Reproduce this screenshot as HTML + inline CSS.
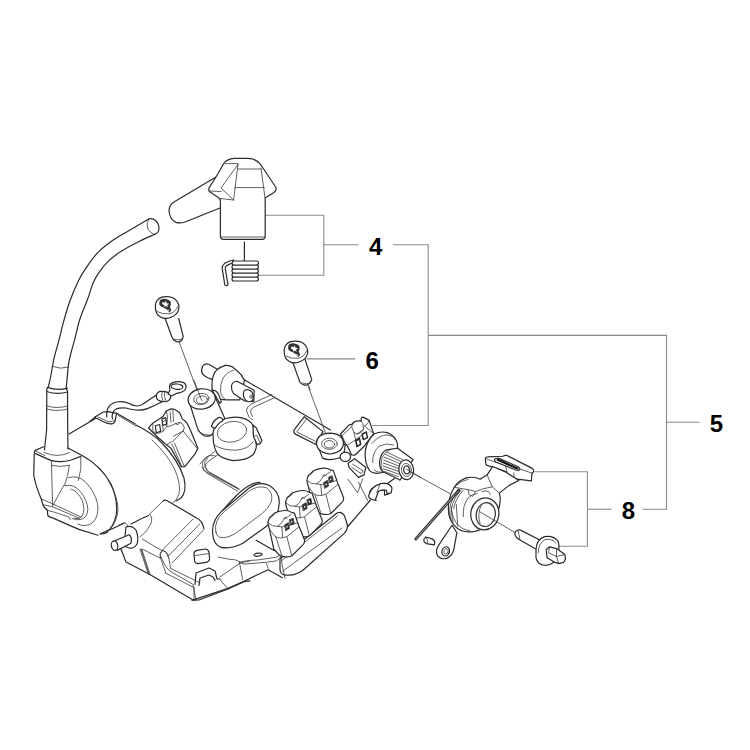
<!DOCTYPE html>
<html><head><meta charset="utf-8"><style>
html,body{margin:0;padding:0;background:#fff;width:750px;height:750px;overflow:hidden}
svg{display:block}
svg *{vector-effect:non-scaling-stroke}
.t{font-family:"Liberation Sans",sans-serif;font-weight:bold;font-size:24px;fill:#000}
.c{stroke:#8a8a8a;stroke-width:1.1;fill:none}
.o{stroke:#2a2a2a;stroke-width:1.2;vector-effect:non-scaling-stroke;fill:none;stroke-linejoin:round;stroke-linecap:round}
.i{stroke:#383838;stroke-width:0.8;vector-effect:non-scaling-stroke;fill:none;stroke-linejoin:round;stroke-linecap:round}
.f{fill:#fff}
</style></head><body>
<svg width="750" height="750" viewBox="0 0 750 750">
<!-- callouts -->
<g class="c">
<path d="M264.5 215.2H323.8V275.3H258"/>
<path d="M323.8 244.8H358.5"/>
<path d="M393 244.8H428.2V425.5H372"/>
<path d="M428.2 335.4H666.5V509.2H642.5"/>
<path d="M666.5 422.2H699.5"/>
<path d="M611.5 509.2H587.4"/>
<path d="M534.5 471.7H587.4V546.3H559"/>
<path d="M306.5 358.9H355.1"/>
</g>
<text class="t" x="369" y="254.6">4</text>
<text class="t" x="365.6" y="368.6">6</text>
<text class="t" x="709.8" y="432">5</text>
<text class="t" x="621.8" y="518.8">8</text>
<!-- PARTS -->
<g id="cap" transform="translate(150 140) scale(0.2)">
<path class="o f" d="M330 185L120 310Q95 325 95 355Q100 400 130 412Q150 418 175 410L350 340"/>
<path class="o f" d="M352 305L352 480Q352 497 368 497L560 497Q576 497 576 480L576 290L620 262Q636 250 628 235L555 125Q532 93 490 92L420 92Q386 95 370 115L330 185L296 238Q288 255 305 263L338 285Q352 293 352 305Z"/>
<path class="i" d="M375 118L440 118M440 120L418 300M440 122L355 240L418 300M298 255L355 258M345 292L418 300M440 145L555 145M425 238L572 238M555 140L575 290M355 485L572 485"/>
<path class="o" d="M472 510L472 605"/>
<g class="o f">
<rect x="410" y="685" width="132" height="20" rx="10"/>
<rect x="410" y="665" width="132" height="20" rx="10"/>
<rect x="410" y="645" width="132" height="20" rx="10"/>
<rect x="410" y="625" width="132" height="20" rx="10"/>
<rect x="410" y="605" width="132" height="20" rx="10"/>
</g>
<path class="o f" d="M418 600Q395 604 372 618Q360 628 361 642L374 724Q378 732 385 728L390 724L376 642Q375 634 384 628L412 614Z"/>
</g>
<g id="hose">
<path class="o" d="M148.8 219.0C145.7 220.8 135.8 226.6 130.0 230.0C124.2 233.4 119.3 235.9 114.0 239.6C108.7 243.3 102.5 247.9 98.0 252.4C93.5 256.9 90.0 262.2 86.8 266.8C83.6 271.4 81.6 274.3 78.8 280.0C76.0 285.7 72.5 293.9 70.0 300.8C67.5 307.7 65.5 314.9 63.6 321.6C61.7 328.3 60.3 335.2 58.8 340.8C57.3 346.4 55.7 351.6 54.8 355.2C53.9 358.8 53.9 358.9 53.2 362.4C52.5 365.9 51.6 372.0 50.8 376.0C50.0 380.0 48.8 384.7 48.4 386.4L46.8 389L46.6 430L44.5 450"/>
<path class="o" d="M155.0 234.3C152.4 235.5 145.1 238.4 139.6 241.2C134.1 243.9 127.1 247.6 122.0 250.8C116.9 254.0 112.9 256.9 109.2 260.4C105.5 263.9 102.3 267.9 99.6 271.6C96.9 275.3 95.2 278.2 93.2 282.8C91.2 287.4 89.9 293.0 87.6 299.2C85.3 305.4 81.7 313.3 79.6 320.0C77.5 326.7 76.3 333.6 74.8 339.2C73.3 344.8 71.9 349.3 70.8 353.6C69.7 357.9 69.0 360.5 68.4 364.8C67.8 369.1 67.5 375.2 67.1 379.2C66.7 383.1 66.2 386.9 66.0 388.5L67.5 391L67.7 430L68 449"/>
<path class="o" d="M148.8 219Q155 217 158.5 225Q160.5 232 155 234.3"/>
<path class="i" d="M148.8 219Q146 223 147.5 228Q150 233.5 155 234.3"/>
<path class="i" d="M52.4 366.4Q60.4 369.6 68.4 367.2"/>
<path class="o" d="M47.6 387.4Q57 391 67.6 388.2M46.8 391.5Q57 395 67.7 392"/>
<path class="i" d="M46.6 406Q57 409 67.7 406M46.6 409Q57 412 67.7 409"/>
</g><g id="boot" transform="translate(28 445) scale(0.12)">
<path class="f" d="M130 15L60 45Q50 55 52 80L48 250Q60 330 110 450L125 500Q130 520 160 540L165 585Q170 600 205 607L370 680L430 705L600 760L640 600L600 300L458 92L345 20L345 60Q240 110 135 60Z"/>
<path class="o" d="M130 15L60 45Q50 55 52 80L48 250Q60 330 110 450L125 500Q130 520 160 540L165 585Q170 600 205 607L370 680L430 705L583 752"/>
<path class="i" d="M135 62Q240 112 345 64"/>
<path class="o" d="M62 72L190 128Q280 150 360 125L440 95"/>
<path class="i" d="M62 50L140 88M195 170Q270 188 345 170M195 128L205 510M345 170Q335 260 305 335M440 95Q452 200 420 295"/>
<path class="i" d="M300 335Q250 420 210 500"/>
<path class="i" d="M115 452L205 490L440 600M128 498L205 515L430 612M160 545L220 560L340 600L352 622"/>
</g>
<path class="i" d="M68.6 477.7Q77.7 474.5 85.6 482.2Q94.6 491.2 97.5 503.7Q99.5 516 92.4 523Q85.6 527.5 77.7 524.1M65.2 485.6Q74.3 483.5 81 492.4Q87.8 501.4 87.8 509.4Q87.5 518.4 79.9 519.6Q75.4 520.5 72 518.4M70.9 489Q77.7 491.2 82.2 500.3Q85.6 509.4 82.2 516.2Q79 520 74.3 518.4"/>
<path class="o" d="M68 448L83 456Q101 466 111 484Q118 500 116.4 514Q114 526 107 532.4Q104 534 100.6 534"/>
<g id="screw1" transform="translate(140 290) scale(0.16)">
<path class="o f" d="M155 172L200 295Q212 322 240 325Q265 320 270 290L242 178"/>
<path class="i" d="M212 308Q240 318 266 305"/>
<path class="i" d="M245 325L380 690"/>
</g>
<path class="o" d="M243 379L330.4 430"/>
<g id="pipe" transform="translate(195 355) scale(0.08)">
<path class="o f" d="M285 180L170 115Q120 100 95 140Q72 190 90 230Q110 265 160 285L215 305"/>
<path class="o f" d="M270 190Q310 150 380 130Q430 125 470 150L540 210Q590 250 605 298L620 310L560 560L400 560Q300 560 260 520Q215 470 212 400Q210 330 225 270Q240 220 270 190Z"/>
<path class="i" d="M480 190Q400 210 350 290Q310 370 320 460Q330 530 370 545"/>
<path class="o f" d="M525 328L740 440L735 580L620 575L482 482Q452 440 455 385Q470 330 525 328Z"/>
<path class="o f" d="M620 440Q660 420 700 450Q740 490 722 560Q700 592 660 582Q610 560 605 500Q605 455 620 440Z"/>
<ellipse class="i" cx="700" cy="520" rx="14" ry="22"/>

</g>
<g id="wire" transform="translate(90 370) scale(0.133333)">
<path class="o f" d="M40 350L100 315L135 312L200 325L190 370Q190 395 170 402Q140 408 110 392L45 360Q35 352 40 350Z"/>
<path class="i" d="M60 352Q100 370 130 385Q160 395 180 380"/>
<path class="o" d="M0 385L40 352"/>
<path class="o" d="M505 182Q450 220 420 240Q380 270 350 270Q320 268 290 250Q250 230 200 240Q150 252 132 290Q122 320 126 352"/>
<path class="o" d="M540 238Q480 270 430 290Q390 305 345 300Q300 295 270 285Q230 280 200 290Q172 305 166 340Q164 355 170 366"/>
<path class="o f" d="M498 200Q495 170 525 160Q560 158 590 170Q612 180 605 205Q598 230 570 238Q535 240 510 225Q498 215 498 200Z"/>
<path class="i" d="M540 165Q530 195 548 232M560 165Q552 198 570 236"/>
<path class="o f" d="M585 180L600 150Q585 110 620 95Q660 80 705 95Q730 115 715 145Q695 170 650 175L612 195Z"/>
<ellipse class="o" cx="652" cy="125" rx="44" ry="20" transform="rotate(5 652 125)"/>
<path class="o" d="M200 325L340 405"/>
<path class="i" d="M210 340L345 420"/>
</g>
<path class="i" d="M272 394.5L251 404Q246 407 246.5 411L249 417Q250 419 252.5 419.5M275 397.5L254 407Q250 409.5 250.5 412L252.5 416.5"/>
<g id="mid1" transform="translate(140 400) scale(0.16)">
<path class="i" d="M470 320L410 365Q385 385 390 410L400 440Q415 460 440 470L610 570M490 340L425 385Q405 400 410 420L420 440Q430 455 450 462L620 555"/>
<path class="o" d="M470 750Q520 680 600 600Q650 550 700 525Q730 515 750 515"/>
<path class="i" d="M500 750Q560 680 630 610Q680 565 750 545"/>
</g>
<g id="motor">
<path class="o" d="M69 434L95.5 418.5"/>
<path class="o" d="M136 425Q152 433 162 443Q178 460 184 478Q187 492 181 498L176 501"/>
<path class="i" d="M152 440Q168 455 175 470Q181 484 179 494Q177 500 173 503"/>
</g>
<g id="lowleft" transform="translate(100 480) scale(0.2)">
<path class="o" d="M0 270L40 252Q80 236 120 216M155 220Q210 190 260 170L300 140"/>
<path class="i" d="M40 0Q90 80 90 150Q85 210 50 245"/>
<path class="o f" d="M130 235Q160 225 180 250Q195 290 185 320Q170 345 145 340L120 330Z"/>
<path class="i" d="M95 225L125 212L140 230"/>
<path class="o" d="M105 345L130 410L245 470L465 600L495 600L640 545L720 508L750 504"/>
<path class="i" d="M205 345L245 470M300 365Q320 440 360 462L465 522L470 545L480 605M600 498L640 545M600 485L700 415L750 405"/>
<path class="o" d="M475 522L480 465L545 440L575 455L585 495L600 495M495 527L500 490L545 475L565 485L575 502"/>
<path class="o f" d="M470 370Q470 355 485 352L525 345Q540 345 545 360L548 395Q545 410 530 412L490 418Q475 418 473 405Z"/>
<path class="i" d="M472 378L545 368"/>
</g>
<g id="box" transform="translate(140 490) scale(0.106667)">
<path class="f" d="M230 95L530 265Q590 290 600 370L300 680L190 620L20 460L90 225Z"/>
<path class="o" d="M215 105Q230 88 255 100L530 262Q585 285 598 360"/>
<path class="i" d="M215 105L90 225M20 460L205 568M500 270L208 565M560 320L262 622M600 370L305 680M205 568Q180 590 190 625M208 565Q250 575 262 622"/>
<path class="i" d="M90 225Q125 262 100 322Q62 400 0 440"/>
</g><g id="boxfront" transform="translate(110 530) scale(0.12)">
<path class="o f" d="M40 90L160 40Q185 60 175 110L60 170Z"/>
<ellipse class="o f" cx="38" cy="130" rx="27" ry="40" transform="rotate(-10 38 130)"/>
<path class="i" d="M250 160L320 370M265 160L335 375M270 160L420 235M420 230L465 360M490 235L505 320M465 360L700 480M505 320L750 440M700 480L700 590"/>
<path class="i" d="M420 230Q410 190 440 172Q480 170 490 235"/>
</g>
<g id="right1" transform="translate(280 370) scale(0.186667)">
<path class="i" d="M150 85L265 395"/>
<path class="o f" d="M130 250L75 322Q70 336 85 345L190 398L230 330Z"/>
<path class="i" d="M142 262L90 332L190 382"/>
<path class="o f" d="M200 400L228 472Q270 492 340 462L350 400Z"/>
<path class="o f" d="M195 392Q200 340 265 338Q335 340 340 390Q340 440 270 450Q200 445 195 392Z"/>
<ellipse class="i" cx="265" cy="395" rx="42" ry="30"/>
<ellipse class="i" cx="265" cy="398" rx="28" ry="20"/>
<ellipse class="o f" cx="350" cy="465" rx="28" ry="25"/>
<path class="o f" d="M365 500L400 475L460 522L450 562L420 575L370 522Z"/>
<path class="i" d="M390 505L445 540L435 555L385 522"/>
<path class="o f" d="M480 652Q500 620 540 610Q580 600 590 630L585 662L560 670L560 645Q545 640 520 650L500 690Z"/>
<path class="i" d="M420 600L470 700M500 690L520 700"/>
</g>
<g id="gear" transform="translate(360 425) scale(0.08)">
<path class="o f" d="M180 110Q260 75 340 95Q430 130 465 220L470 280L420 560L250 600Q170 620 120 570Q55 480 65 330Q90 180 180 110Z"/>
<path class="i" d="M150 230Q200 160 290 130Q380 110 440 170M160 470Q150 330 250 260Q330 220 420 250M175 560Q210 600 260 590"/>
<path class="o f" d="M400 300L470 290L620 400L662 432L500 690L470 672L282 582Q240 540 245 450Q260 350 330 310Z"/>
<path class="i" d="M282 582Q250 520 270 430Q300 330 400 300"/>
<path class="i" d="M335 338L545 440M320 368L535 465M305 402L520 492M296 438L505 520M290 475L492 548M288 512L485 580M292 548L482 612M300 580L480 645"/>
<ellipse class="o f" cx="578" cy="560" rx="92" ry="124" transform="rotate(-8 578 560)"/>
<ellipse class="i" cx="580" cy="562" rx="62" ry="82" transform="rotate(-8 580 562)"/>
<ellipse class="o" cx="582" cy="562" rx="36" ry="50" transform="rotate(-8 582 562)"/>
<path class="i" d="M580 550L750 650"/>
</g>

<g id="conn2" transform="translate(330 410) scale(0.08)">
<path class="o f" d="M130 300L240 185L270 180L300 150Q340 130 390 140L390 100Q400 85 420 92L490 130L545 295L420 460L310 565L270 562L215 445Q190 420 175 400Z"/>
<path class="i" d="M130 300L150 320L190 410M150 320L270 210L300 150M270 210L300 280L340 300L390 280L420 240L410 170L390 140M300 280L320 370M340 300L420 240M490 130L470 170L430 200M430 200L545 295M190 410L215 445M215 445L420 300"/>
<path class="o" d="M320 380L370 350L385 430L335 460ZM400 300L455 272L470 345L415 372Z" style="fill:#2a2a2a"/>
<path d="M335 390L362 374L372 425L345 442ZM412 310L448 292L458 340L425 357Z" fill="#fff"/>
</g>
<g id="screw6" transform="translate(275 330) scale(0.08)">
<path class="o f" d="M220 395L310 650Q340 692 390 690Q440 672 460 620L372 358"/>
<path class="i" d="M345 662Q400 685 445 660"/>
<path class="i" d="M420 690L440 750"/>
</g>
<g id="conn1" transform="translate(145 405) scale(0.086667)">
<path class="o f" d="M40 265L90 210L160 165L210 130L245 70L300 45L340 50L400 90L430 160L470 190L490 220L520 280L610 500L580 560L460 710L420 715L390 660L300 500L250 460Q150 380 40 265Z"/>
<path class="i" d="M250 460Q280 430 320 420L440 300L455 262L430 215L400 200L350 215L300 240L250 250L210 300L180 320L120 330L90 290L90 210M440 300L600 500M310 450L420 700M340 440L450 700M330 360L440 300M245 70L260 140L250 250M290 80L300 200M320 60L330 190M350 215L380 230L400 200M240 170L200 200L210 300"/>
<path class="o" d="M120 240L170 225L180 305L130 320ZM195 160L240 145L250 220L205 235Z"/>
</g>
<g id="bush1" transform="translate(180 380) scale(0.106667)">
<path class="o f" d="M80 185L160 440Q180 500 230 525Q290 532 310 500L420 360L330 160Z"/>
<path class="i" d="M165 470Q200 520 300 518"/>
<ellipse class="o f" cx="203" cy="178" rx="128" ry="95" transform="rotate(-8 203 178)"/>
<ellipse class="i" cx="200" cy="178" rx="72" ry="52" transform="rotate(-8 200 178)"/>
<ellipse class="i" cx="205" cy="186" rx="52" ry="36" transform="rotate(-8 205 186)"/>
<path class="o f" d="M300 95Q335 92 360 130L388 205L372 218L340 160Z"/>
<path class="i" d="M130 0L205 195"/>
</g>
<g id="dome" transform="translate(205 410) scale(0.08)">
<path class="o f" d="M100 290Q110 180 250 110Q350 80 450 95Q560 120 600 190Q612 240 605 300Q650 400 640 470Q630 520 600 560Q520 632 350 632Q200 612 150 540Q115 470 105 400Z"/>
<path class="i" d="M120 440Q220 505 390 502Q540 490 605 395"/>
<ellipse class="i" cx="338" cy="272" rx="186" ry="128" transform="rotate(-12 338 272)"/>
<path class="o f" d="M80 205Q100 130 170 95Q200 85 215 110L222 135Q170 160 125 230Z"/>
<path class="o f" d="M600 190L640 222L712 380L692 420L652 432L605 330Z"/>
<path class="i" d="M605 330L650 318L692 420"/>
</g>
<g id="mid2" transform="translate(200 450) scale(0.186667)">
<path class="o f" d="M68 450Q60 380 120 325L262 205Q315 165 372 190Q425 222 425 280L420 320Q400 380 340 420L230 500Q160 535 110 520Q72 505 68 450Z"/>
<path class="i" d="M85 440Q72 380 130 330L260 222Q310 187 355 202Q395 227 382 277Q370 312 330 342L190 447Q140 477 105 467Q88 460 85 440Z"/>
<path class="i" d="M0 75L30 40Q50 25 80 30M10 92Q20 112 42 122L210 212M40 42Q20 60 25 90Q40 120 70 130L200 205"/>
</g>

<g id="conns" transform="translate(250 470) scale(0.2)">
<path class="o f" d="M150 445L435 215Q458 205 472 228L487 275Q490 298 470 318L272 495Q240 522 200 526L178 526Q152 522 150 500Z"/>
<path class="i" d="M160 452L440 228M165 505L460 290"/>
<g transform="translate(195 -212)"><g><g transform="translate(75 175) scale(0.3667)">
<path class="o f" d="M40 250Q45 180 90 150L130 110Q180 85 260 75Q320 72 350 95L400 110L460 280L540 480Q545 520 510 550L370 690Q330 720 240 700L200 690L120 600L60 330Z"/>
<path class="i" d="M50 250Q100 300 170 290Q220 270 260 190Q300 170 360 125M255 185L270 168L300 180M55 175L110 145L135 112M170 290L230 300L445 245M140 430Q200 470 300 430L460 300M150 440L230 690M300 440L365 690M230 300L240 440M60 330L140 430"/>
<path class="i" d="M270 270L320 240L335 320L285 350ZM335 200L385 180L400 255L350 275Z" style="fill:#333"/>
<path d="M292 290L306 282L311 305L298 313ZM355 218L369 212L374 235L361 241Z" style="fill:#fff"/>
</g></g></g>
<g transform="translate(88 -100)"><g><g transform="translate(75 175) scale(0.3667)">
<path class="o f" d="M40 250Q45 180 90 150L130 110Q180 85 260 75Q320 72 350 95L400 110L460 280L540 480Q545 520 510 550L370 690Q330 720 240 700L200 690L120 600L60 330Z"/>
<path class="i" d="M50 250Q100 300 170 290Q220 270 260 190Q300 170 360 125M255 185L270 168L300 180M55 175L110 145L135 112M170 290L230 300L445 245M140 430Q200 470 300 430L460 300M150 440L230 690M300 440L365 690M230 300L240 440M60 330L140 430"/>
<path class="i" d="M270 270L320 240L335 320L285 350ZM335 200L385 180L400 255L350 275Z" style="fill:#333"/>
<path d="M292 290L306 282L311 305L298 313ZM355 218L369 212L374 235L361 241Z" style="fill:#fff"/>
</g></g></g>
<g><g transform="translate(75 175) scale(0.3667)">
<path class="o f" d="M40 250Q45 180 90 150L130 110Q180 85 260 75Q320 72 350 95L400 110L460 280L540 480Q545 520 510 550L370 690Q330 720 240 700L200 690L120 600L60 330Z"/>
<path class="i" d="M50 250Q100 300 170 290Q220 270 260 190Q300 170 360 125M255 185L270 168L300 180M55 175L110 145L135 112M170 290L230 300L445 245M140 430Q200 470 300 430L460 300M150 440L230 690M300 440L365 690M230 300L240 440M60 330L140 430"/>
<path class="i" d="M270 270L320 240L335 320L285 350ZM335 200L385 180L400 255L350 275Z" style="fill:#333"/>
<path d="M292 290L306 282L311 305L298 313ZM355 218L369 212L374 235L361 241Z" style="fill:#fff"/>
</g></g>
</g>
<g id="plateb">
<path class="o" d="M192 600.4L228 588.4L242.4 582L268 569.7L282.4 577.7"/>
<path class="i" d="M218 557L230 559.4Q234.7 558.9 238.9 561.3Q241.2 564.1 244 564.1L267.3 562.2L276.7 560.8Q279.5 558.9 281.3 556.1M239.3 562.2Q243 560.8 258 559.9L276.7 557.1Q278.5 556.1 280.4 554.3M239.3 561.7L242.6 579.5M266.4 563.6L268.3 568.3M280.9 557.1L282.3 565.5L285 578.5"/>
<ellipse class="o" cx="258" cy="554.7" rx="4.2" ry="1.5" transform="rotate(-8 258 554.7)"/>
<path class="o" d="M256.1 540.3L274 550.6"/>
<path class="o" d="M370.5 500L347.4 527"/>
</g>
<g id="right2" transform="translate(300 440) scale(0.16)">
<path class="o" d="M590 240L540 276"/>
<path class="i" d="M300 245L360 330L392 242"/>
<path class="o f" d="M430 345Q445 290 510 272Q560 265 575 300L570 330L545 335L540 315Q520 305 490 320L470 377L450 372Q425 362 430 345Z"/>
<path class="i" d="M500 276L480 330"/>
</g>
<g id="lever" transform="translate(405 445) scale(0.186667)">
<path class="i" d="M30 145L250 265"/>
<path class="o f" d="M252 430L178 540Q160 572 176 596Q196 616 226 606Q256 590 262 556L278 470Z"/>
<ellipse class="o" cx="218" cy="570" rx="20" ry="25" transform="rotate(20 218 570)"/>
<ellipse class="i" cx="220" cy="570" rx="11" ry="15" transform="rotate(20 220 570)"/>
<path class="o f" d="M112 493L145 503Q165 513 157 535L122 530Q96 524 102 503Z"/>
<path class="i" d="M112 493Q125 505 120 530"/>
</g>
<g id="pad" transform="translate(475 450) scale(0.08)">
<path class="o f" d="M130 100Q135 85 160 85L350 78Q372 62 400 68L715 230Q742 248 730 275L712 290L705 385L500 362L400 350L390 272L160 195Q140 190 135 175Z"/>
<path class="i" d="M140 110L380 195L400 275M380 195L600 250L712 290M400 280L405 350M485 285L490 355"/>
<path class="o f" d="M250 110Q270 100 300 105L540 210Q570 230 555 250Q540 260 510 250L260 150Q235 130 250 110Z"/>
<path d="M285 122L530 232" stroke="#111" stroke-width="2.2" fill="none" stroke-linecap="round"/>
</g>
<g id="hub" transform="translate(440 470) scale(0.093333)">
<path class="o f" d="M90 420Q85 300 150 190Q190 120 280 85Q370 65 430 100L505 52Q540 0 565 -38L700 20L845 112L745 162L635 248Q652 300 642 350Q632 450 580 520Q520 600 450 632Q380 662 330 662Q220 672 150 590Q90 520 90 420Z"/>
<path class="i" d="M150 185L300 210L380 230Q420 215 470 200L560 180L635 248M160 175Q230 110 300 100M505 52L560 180M300 210L310 262L350 282L380 230M450 232Q480 215 520 230L540 262"/>
<path class="i" d="M250 500Q240 380 300 300Q340 260 400 250M90 420Q95 520 150 590M120 395Q125 510 190 590Q240 640 320 652M175 370L190 600"/>
<ellipse class="o f" cx="480" cy="470" rx="150" ry="172" transform="rotate(10 480 470)"/>
<ellipse class="o" cx="490" cy="478" rx="102" ry="128" transform="rotate(10 490 478)"/>
<path class="i" d="M430 570Q395 480 440 380"/>
<path class="o f" d="M200 206L-268 736Q-270 750 -256 748L214 218Z"/>
<path class="i" d="M210 205Q120 300 104 414Q104 500 122 553M228 212Q140 305 124 414Q124 500 140 556M246 220Q162 312 146 414"/>
<path class="i" d="M430 450L800 668"/>
</g>
<g id="bolt" transform="translate(500 500) scale(0.12)">
<path class="o f" d="M150 250Q120 258 125 290Q135 320 160 330L305 412L335 335L180 255Q165 245 150 250Z"/>
<path class="i" d="M150 252Q160 290 165 325"/>
<path class="o f" d="M300 420Q300 330 370 305Q450 295 485 345Q500 400 480 470Q450 540 380 545Q310 540 300 480Z"/>
<path class="i" d="M318 440Q318 360 375 330Q440 320 465 360"/>
<path class="o f" d="M385 415L412 390L472 405L540 455L546 492L530 520L490 530L460 520L392 482Z"/>
<path class="i" d="M412 390L405 440L470 470L540 455M470 470L490 530M470 470L472 405"/>
</g>

<g transform="translate(152 292) scale(0.042667)">
<path class="o f" d="M80 300Q100 170 230 120Q350 90 480 130Q600 190 630 320Q640 450 560 520Q470 610 330 620Q180 610 110 500Q70 420 80 300Z"/>
<path class="i" d="M120 460Q250 525 400 512Q545 490 610 330"/>
<path d="M180 200Q220 150 300 160Q400 170 440 230Q450 300 420 350L455 430L405 485L360 420Q300 380 250 360Q180 340 170 290Z" style="fill:#333"/>
<path d="M245 235L295 250L325 205L345 262L405 275L355 310L375 365L325 330L290 355L288 310L238 282Z" style="fill:#fff"/>
<path d="M372 405L412 440L400 456L360 418Z" style="fill:#fff"/>
</g>
<g transform="translate(128.8 44.5)"><g transform="translate(152 292) scale(0.042667)">
<path class="o f" d="M80 300Q100 170 230 120Q350 90 480 130Q600 190 630 320Q640 450 560 520Q470 610 330 620Q180 610 110 500Q70 420 80 300Z"/>
<path class="i" d="M120 460Q250 525 400 512Q545 490 610 330"/>
<path d="M180 200Q220 150 300 160Q400 170 440 230Q450 300 420 350L455 430L405 485L360 420Q300 380 250 360Q180 340 170 290Z" style="fill:#333"/>
<path d="M245 235L295 250L325 205L345 262L405 275L355 310L375 365L325 330L290 355L288 310L238 282Z" style="fill:#fff"/>
<path d="M372 405L412 440L400 456L360 418Z" style="fill:#fff"/>
</g></g>
</svg>
</body></html>
